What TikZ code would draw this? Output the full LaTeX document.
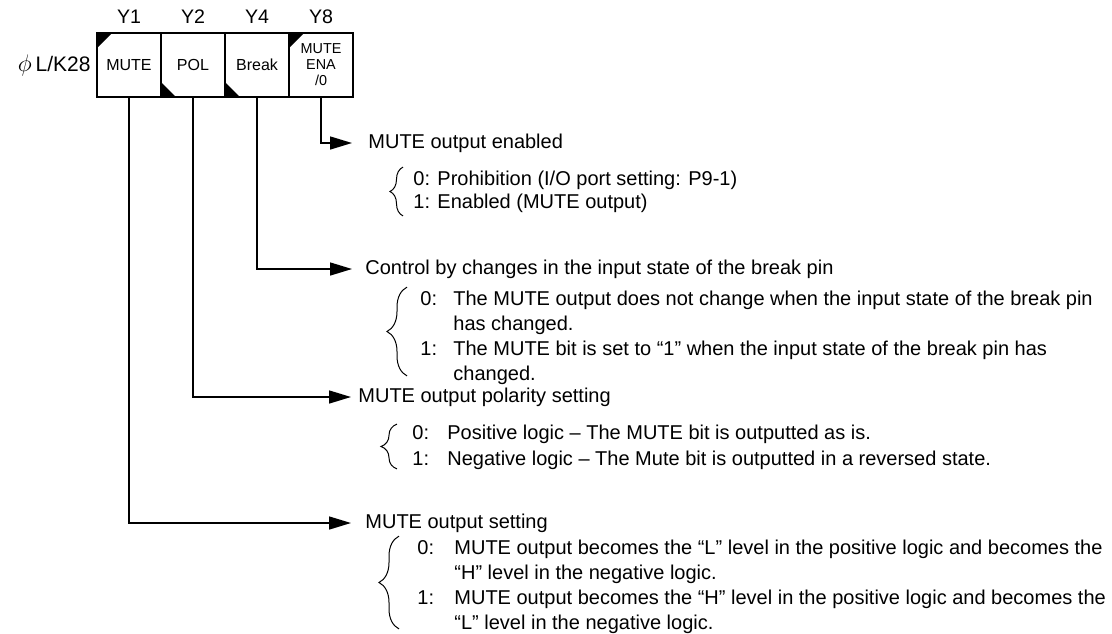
\documentclass[tikz,border=0pt]{standalone}
\usepackage{fontspec}
\setmainfont{Liberation Sans}
\usetikzlibrary{arrows.meta,positioning,decorations.pathreplacing}

\tikzset{
  cell/.style={draw, line width=0.75pt, outer sep=0pt, inner sep=0pt,
    minimum width=32pt, minimum height=32pt, font=\fontsize{8}{9}\selectfont},
  ylab/.style={inner sep=0pt, font=\fontsize{9.8}{11}\selectfont},
  conn/.style={line width=0.75pt, -{Triangle[length=11pt,width=6.5pt]}},
  head/.style={inner sep=0pt, font=\fontsize{10}{12.5}\selectfont},
  items/.style={inner sep=0pt, anchor=base west, font=\fontsize{10}{12.5}\selectfont},
  brc/.style={decorate, decoration={brace, amplitude=#1}, line width=0.5pt},
  brc/.default=7pt
}

\begin{document}
\begin{tikzpicture}[x=0.5pt, y=-0.5pt]
  \useasboundingbox (0,0) rectangle (1112,633);

  % register L/K28
  \node[cell] (c1) at (129,65) {MUTE};
  \node[cell, right=0pt of c1] (c2) {POL};
  \node[cell, right=0pt of c2] (c3) {Break};
  \node[cell, right=0pt of c3, align=center, font=\fontsize{7.2}{8}\selectfont] (c4) {MUTE\\ENA\\/0};
  \node[ylab, left=3pt of c1, font=\fontsize{10.5}{12}\selectfont] (reg) {{\fontsize{13}{13}\selectfont$\phi$}\kern2pt L/K28};
  \node[ylab, above=4.5pt of c1] (y1) {Y1};
  \node[ylab, above=4.5pt of c2] (y2) {Y2};
  \node[ylab, above=4.5pt of c3] (y4) {Y4};
  \node[ylab, above=4.5pt of c4] (y8) {Y8};

  % corner marks
  \fill (c1.north west) -- ++(7.5pt,0) -- ++(-7.5pt,-7.5pt) -- cycle;
  \fill (c2.south west) -- ++(7.5pt,0) -- ++(-7.5pt,7.5pt) -- cycle;
  \fill (c3.south west) -- ++(7.5pt,0) -- ++(-7.5pt,7.5pt) -- cycle;
  \fill (c4.north west) -- ++(7.5pt,0) -- ++(-7.5pt,-7.5pt) -- cycle;

  % arrow tips
  \coordinate (t8) at (352,143);
  \coordinate (t4) at (352,269);
  \coordinate (t2) at (351,397);
  \coordinate (t1) at (351,523);

  \draw[conn] (c4.south) |- (t8);
  \draw[conn] (c3.south) |- (t4);
  \draw[conn] (c2.south) |- (t2);
  \draw[conn] (c1.south) |- (t1);

  % Y8
  \node[head, right=8pt of t8] (h8) {MUTE output enabled};
  \node[items] (i8) at (413,185) {\begin{tabular}[t]{@{}l@{}}
    0: Prohibition (I/O port setting: P9-1)\\[-1pt]
    1: Enabled (MUTE output)\end{tabular}};
  \draw[brc=6.5pt] ([xshift=-5pt]i8.south west) -- ([xshift=-5pt]i8.north west);

  % Y4
  \node[head, right=6.5pt of t4] (h4) {Control by changes in the input state of the break pin};
  \node[items] (i4) at (420,305) {\begin{tabular}[t]{@{}p{16.5pt}@{}l@{}}
    0: & The MUTE output does not change when the input state of the break pin\\
       & has changed.\\
    1: & The MUTE bit is set to “1” when the input state of the break pin has\\
       & changed.\end{tabular}};
  \draw[brc=10pt] ([xshift=-6.5pt,yshift=6pt]i4.south west) -- ([xshift=-6.5pt]i4.north west);

  % Y2
  \node[head, right=3.5pt of t2] (h2) {MUTE output polarity setting};
  \node[items] (i2) at (412,439) {\begin{tabular}[t]{@{}p{17.5pt}@{}l@{}}
    0: & Positive logic – The MUTE bit is outputted as is.\\[0.5pt]
    1: & Negative logic – The Mute bit is outputted in a reversed state.\end{tabular}};
  \draw[brc=8pt] ([xshift=-7.5pt,yshift=2pt]i2.south west) -- ([xshift=-7.5pt,yshift=-1.5pt]i2.north west);

  % Y1
  \node[head, right=7pt of t1] (h1) {MUTE output setting};
  \node[items] (i1) at (417,554) {\begin{tabular}[t]{@{}p{18.5pt}@{}l@{}}
    0: & MUTE output becomes the “L” level in the positive logic and becomes the\\
       & “H” level in the negative logic.\\
    1: & MUTE output becomes the “H” level in the positive logic and becomes the\\
       & “L” level in the negative logic.\end{tabular}};
  \draw[brc=10pt] ([xshift=-9pt,yshift=4pt]i1.south west) -- ([xshift=-9pt]i1.north west);
\end{tikzpicture}
\end{document}
